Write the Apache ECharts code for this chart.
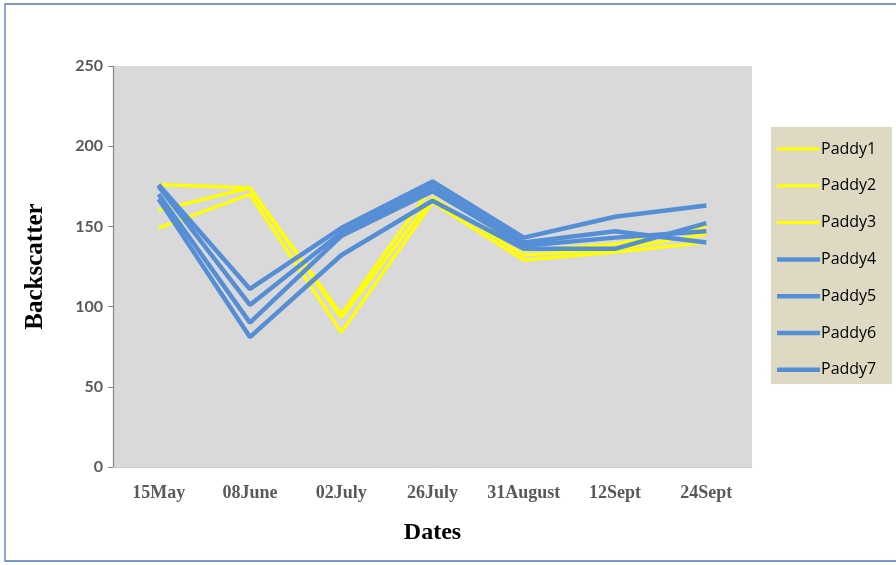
<!DOCTYPE html>
<html>
<head>
<meta charset="utf-8">
<script src="https://cdn.jsdelivr.net/npm/echarts@6/dist/echarts.min.js"></script>
<style>html,body{margin:0;padding:0;background:#fff}#c{width:896px;height:565px}</style>
</head>
<body>
<div id="c"></div>
<script>
const categories = ['15May', '08June', '02July', '26July', '31August', '12Sept', '24Sept'];
const yTicks = [0, 50, 100, 150, 200, 250];
const paddy1 = [176, 174, 95, 175, 135, 139, 150];
const paddy2 = [160, 174, 93, 168, 132, 136, 145];
const paddy3 = [149, 170, 84, 165, 129, 134, 140];
const paddy4 = [176, 111, 149, 178, 143, 156, 163];
const paddy5 = [175, 101, 146, 175, 140, 147, 140];
const paddy6 = [170, 90, 144, 172, 138, 143, 147];
const paddy7 = [167, 81, 132, 166, 136, 136, 152];
const seriesNames = ['Paddy1', 'Paddy2', 'Paddy3', 'Paddy4', 'Paddy5', 'Paddy6', 'Paddy7'];
const seriesData = [paddy1, paddy2, paddy3, paddy4, paddy5, paddy6, paddy7];

const YELLOW = '#ffff00', BLUE = '#558ed5';
const chart = echarts.init(document.getElementById('c'), null, {renderer: 'canvas'});
const series = seriesNames.map((n, i) => {
  const yellow = i < 3;
  return {
    name: n, type: 'line', data: seriesData[i], symbol: 'none', smooth: false,
    lineStyle: {color: yellow ? YELLOW : BLUE, width: yellow ? 3.2 : 4.5},
    itemStyle: {color: yellow ? YELLOW : BLUE}
  };
});
const legendData = seriesNames.map((n, i) => ({
  name: n,
  icon: i < 3 ? 'path://M0,0L43,0L43,3L0,3Z' : 'path://M0,0L43,0L43,4.5L0,4.5Z',
  itemStyle: {color: i < 3 ? YELLOW : BLUE, borderWidth: 0}
}));
chart.setOption({
  animation: false,
  backgroundColor: '#ffffff',
  graphic: [
    {type: 'rect', shape: {x: 5, y: 4, width: 900, height: 557}, style: {fill: 'none', stroke: '#4f7bbd', lineWidth: 1.3}, z: 0},
    {type: 'rect', shape: {x: 771, y: 127, width: 121, height: 257}, style: {fill: '#ddd9c3'}, z: 0}
  ],
  grid: {left: 113, right: 144, top: 66, bottom: 98, show: true, backgroundColor: '#d9d9d9', borderWidth: 0},
  legend: {
    orient: 'vertical', left: 777, top: 141, padding: 0,
    itemWidth: 43, itemHeight: 14, itemGap: 20.8, symbolKeepAspect: true,
    data: legendData,
    textStyle: {fontFamily: 'Open Sans, Liberation Sans, sans-serif', fontSize: 16, lineHeight: 14, color: '#000', padding: [0, 0, 0, -4]}
  },
  xAxis: {
    type: 'category', data: categories, boundaryGap: true,
    name: 'Dates', nameLocation: 'middle', nameGap: 54,
    nameTextStyle: {fontFamily: 'Liberation Serif, Times New Roman, serif', fontWeight: 'bold', fontSize: 24, color: '#000'},
    axisLine: {show: true, lineStyle: {color: '#d0d0d0', width: 1}},
    axisTick: {show: false},
    axisLabel: {interval: 0, fontFamily: 'Liberation Serif, Times New Roman, serif', fontWeight: 'bold', fontSize: 18, color: '#595959', margin: 17}
  },
  yAxis: {
    type: 'value', min: yTicks[0], max: yTicks[yTicks.length - 1], interval: 50,
    name: 'Backscatter', nameLocation: 'middle', nameGap: 65, nameRotate: 90,
    nameTextStyle: {fontFamily: 'Liberation Serif, Times New Roman, serif', fontWeight: 'bold', fontSize: 25, color: '#000'},
    axisLine: {show: true, lineStyle: {color: '#868686', width: 1.2}},
    axisTick: {show: true, inside: false, length: 5, lineStyle: {color: '#868686'}},
    splitLine: {show: false},
    axisLabel: {fontFamily: 'Lato, Liberation Sans, sans-serif', fontWeight: 'bold', fontSize: 16, color: '#595959', margin: 10}
  },
  series: series
});
</script>
</body>
</html>
